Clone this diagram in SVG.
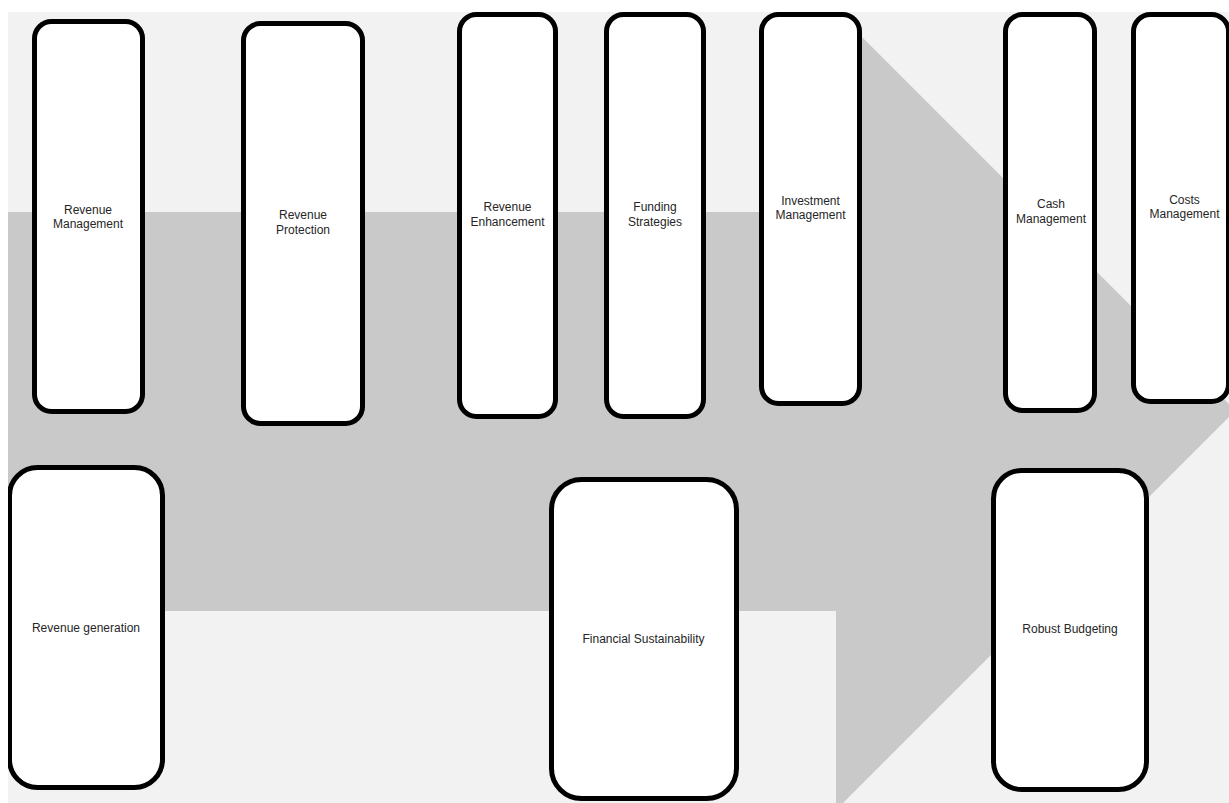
<svg xmlns="http://www.w3.org/2000/svg" width="1229" height="803" viewBox="0 0 1229 803">
  <defs>
    <clipPath id="bgclip">
      <rect x="8" y="12" width="1221" height="791"/>
    </clipPath>
  </defs>
  <style>
    .box { fill: #ffffff; stroke: #000000; stroke-width: 5; }
    .lbl { font-family: "Liberation Sans", Arial, sans-serif; font-size: 12px; fill: #262626; text-anchor: middle; }
  </style>
  <rect x="0" y="0" width="1229" height="803" fill="#ffffff"/>
  <g id="background" clip-path="url(#bgclip)">
    <rect x="8" y="12" width="1221" height="791" fill="#f2f2f2"/>
    <polygon points="8,212 836,212 836,11 1235.5,410.5 836,810 836,611 8,611" fill="#c9c9c9"/>
  </g>
  <g id="connectors"></g>
  <g clip-path="url(#bgclip)">
    <g id="node-revenue-management">
      <rect class="box" x="34.5" y="21.5" width="108" height="390" rx="17"/>
      <text class="lbl" x="88" y="214">Revenue</text>
      <text class="lbl" x="88" y="228">Management</text>
    </g>
    <g id="node-revenue-protection">
      <rect class="box" x="243.5" y="23.5" width="119" height="400" rx="17"/>
      <text class="lbl" x="303" y="219">Revenue</text>
      <text class="lbl" x="303" y="234">Protection</text>
    </g>
    <g id="node-revenue-enhancement">
      <rect class="box" x="459.5" y="14.5" width="96" height="402" rx="17"/>
      <text class="lbl" x="507.5" y="211">Revenue</text>
      <text class="lbl" x="507.5" y="226">Enhancement</text>
    </g>
    <g id="node-funding-strategies">
      <rect class="box" x="606.5" y="14.5" width="97" height="402" rx="17"/>
      <text class="lbl" x="655" y="211">Funding</text>
      <text class="lbl" x="655" y="226">Strategies</text>
    </g>
    <g id="node-investment-management">
      <rect class="box" x="761.5" y="14.5" width="98" height="389" rx="17"/>
      <text class="lbl" x="810.5" y="205">Investment</text>
      <text class="lbl" x="810.5" y="219">Management</text>
    </g>
    <g id="node-cash-management">
      <rect class="box" x="1005.5" y="14.5" width="89" height="396" rx="17"/>
      <text class="lbl" x="1051" y="208">Cash</text>
      <text class="lbl" x="1051" y="223">Management</text>
    </g>
    <g id="node-costs-management">
      <rect class="box" x="1133.5" y="14.5" width="95" height="387" rx="17"/>
      <text class="lbl" x="1184.5" y="204">Costs</text>
      <text class="lbl" x="1184.5" y="218">Management</text>
    </g>
    <g id="node-revenue-generation">
      <rect class="box" x="9.5" y="467.5" width="153" height="320" rx="28"/>
      <text class="lbl" x="86" y="632">Revenue generation</text>
    </g>
    <g id="node-financial-sustainability">
      <rect class="box" x="551.5" y="479.5" width="185" height="319" rx="30"/>
      <text class="lbl" x="643.5" y="643">Financial Sustainability</text>
    </g>
    <g id="node-robust-budgeting">
      <rect class="box" x="993.5" y="470.5" width="153" height="319" rx="28"/>
      <text class="lbl" x="1070" y="633">Robust Budgeting</text>
    </g>
  </g>
</svg>
